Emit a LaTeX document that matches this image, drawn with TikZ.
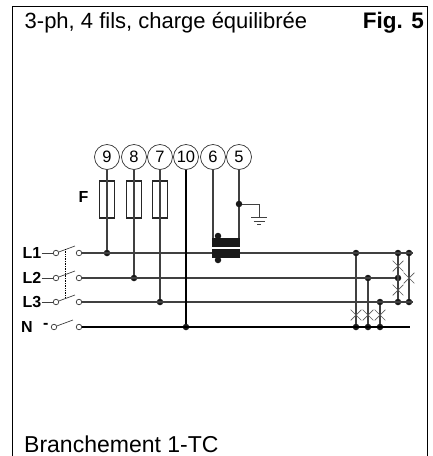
\documentclass[tikz,border=0pt]{standalone}
\usepackage{fontspec}
\setmainfont{Liberation Sans}
\usetikzlibrary{shapes.misc}
\tikzset{
    terminal/.style={draw=black!80,circle,minimum size=25pt,inner sep=0pt,line width=.7pt,font=\fontsize{16.5}{16.5}\selectfont},
    fuse/.style={draw=black!85,rectangle,minimum width=14.5pt,minimum height=37pt,inner sep=0pt,line width=1.3pt},
    core/.style={fill=black!90,rectangle,minimum width=28pt,minimum height=9pt,inner sep=0pt},
    contact/.style={draw=black!80,fill=white,circle,minimum size=5.5pt,inner sep=0pt,line width=.7pt},
    junction/.style={fill=black!90,circle,minimum size=6.5pt,inner sep=0pt},
    crossing/.style={draw=black!65,cross out,minimum size=10pt,inner sep=0pt,line width=.7pt},
    phase/.style={inner sep=0pt,font=\fontsize{16}{16}\selectfont\bfseries},
    title/.style={anchor=base west,inner sep=0pt,font=\fontsize{22}{22}\selectfont},
    wire/.style={draw=black!75,line width=1.1pt},
    neutral/.style={draw=black,line width=1.9pt},
}
\begin{document}
\begin{tikzpicture}[x=1pt,y=-1pt]
    \useasboundingbox (0,0) rectangle (432,456);
    \draw[line width=1pt] (12,456) -- (12,6) -- (427,6) -- (427,456);

    \node[title] (head) at (24.5,28) {3-ph, 4 fils, charge équilibrée};
    \node[title,anchor=base east,font=\fontsize{22.5}{22.5}\selectfont\bfseries] (fig) at (424,28) {Fig. 5};
    \node[title,font=\fontsize{23}{23}\selectfont] (foot) at (24,452) {Branchement 1-TC};

    % terminals
    \foreach \t/\x in {9/107,8/134,7/160,10/186,6/213,5/239} {
        \node[terminal] (t\t) at (\x,157) {\t};
    }

    % fuses
    \foreach \t/\x in {9/107,8/134,7/160} {
        \node[fuse] (f\t) at (\x,199.5) {};
    }
    \node[phase] (flabel) at (83.5,197) {F};

    % line switches
    \foreach \n/\y/\lab in {a/253/L1,b/278/L2,c/302/L3} {
        \node[phase,anchor=east] (lab\n) at (41.5,\y) {\lab};
        \node[contact] (in\n) at (56,\y) {};
        \node[contact] (out\n) at (79,\y) {};
        \coordinate (tip\n) at (75,\y-7);
        \draw[wire,line width=.7pt] (lab\n) -- (in\n);
        \draw[wire,line width=.7pt] (in\n) -- (tip\n);
    }
    \node[phase,anchor=east] (labn) at (33,327) {N};
    \node[phase,anchor=west] (dashn) at (43,326) {-};
    \node[contact] (inn) at (54,327) {};
    \node[contact] (outn) at (79,327) {};
    \coordinate (tipn) at (73,320);
    \draw[wire,line width=.7pt] (inn) -- (tipn);
    \coordinate (gangtop) at (65,249);
    \coordinate (gangend) at (65,297);
    \draw[line width=.7pt,densely dotted] (gangtop) -- (gangend);

    % junctions on the lines
    \foreach \n/\x/\y in {j9/107/253,j8/134/278,j7/160/302,j10/186/327,
        ca/356/253,cb/368/278,cc/380/302,na/356/327,nb/368/327,nc/380/327,
        ra/398/253,rb/398/278,rc/398/302,sa/409/253,sc/409/302} {
        \node[junction] (\n) at (\x,\y) {};
    }
    \coordinate (enda) at (413,253);
    \coordinate (endc) at (413,302);
    \coordinate (endn) at (410,327);

    % busbars
    \draw[wire] (outa) -- (enda);
    \draw[wire] (outb) -- (rb);
    \draw[wire] (outc) -- (endc);
    \draw[neutral] (outn) -- (endn);

    % terminals down to the lines
    \draw[wire] (t9) -- (j9);
    \draw[wire] (t8) -- (j8);
    \draw[wire] (t7) -- (j7);
    \draw[neutral] (t10) -- (j10);

    % current transformer
    \node[core] (cta) at (226,242.5) {};
    \node[core] (ctb) at (226,253) {};
    \node[junction] (dota) at (218,236) {};
    \node[junction] (dotb) at (218,260) {};
    \draw[wire] (t6) -- (t6|-cta.north);
    \draw[wire] (t5) -- (t5|-cta.north);

    % earth
    \node[junction] (g) at (239,204) {};
    \coordinate (gnd) at (259,217);
    \coordinate (gnda) at (251,217);
    \coordinate (gndb) at (267,217);
    \coordinate (gndc) at (253.5,221);
    \coordinate (gndd) at (264.5,221);
    \coordinate (gnde) at (257,224.5);
    \coordinate (gndf) at (261,224.5);
    \draw[wire,line width=.9pt] (g) -| (gnd);
    \draw[wire,line width=.9pt] (gnda) -- (gndb);
    \draw[wire,line width=.9pt] (gndc) -- (gndd);
    \draw[wire,line width=.9pt] (gnde) -- (gndf);

    % links between the lines
    \draw[wire] (ca) -- (na);
    \draw[wire] (cb) -- (nb);
    \draw[wire] (cc) -- (nc);
    \draw[wire] (ra) -- (rc);
    \draw[wire] (sa) -- (sc);

    % measuring crosses
    \foreach \n/\x/\y in {xa/356/315,xb/368/315,xc/380/315,xd/398/266,xe/398/290,xf/409/278} {
        \node[crossing] (\n) at (\x,\y) {};
    }
\end{tikzpicture}
\end{document}
